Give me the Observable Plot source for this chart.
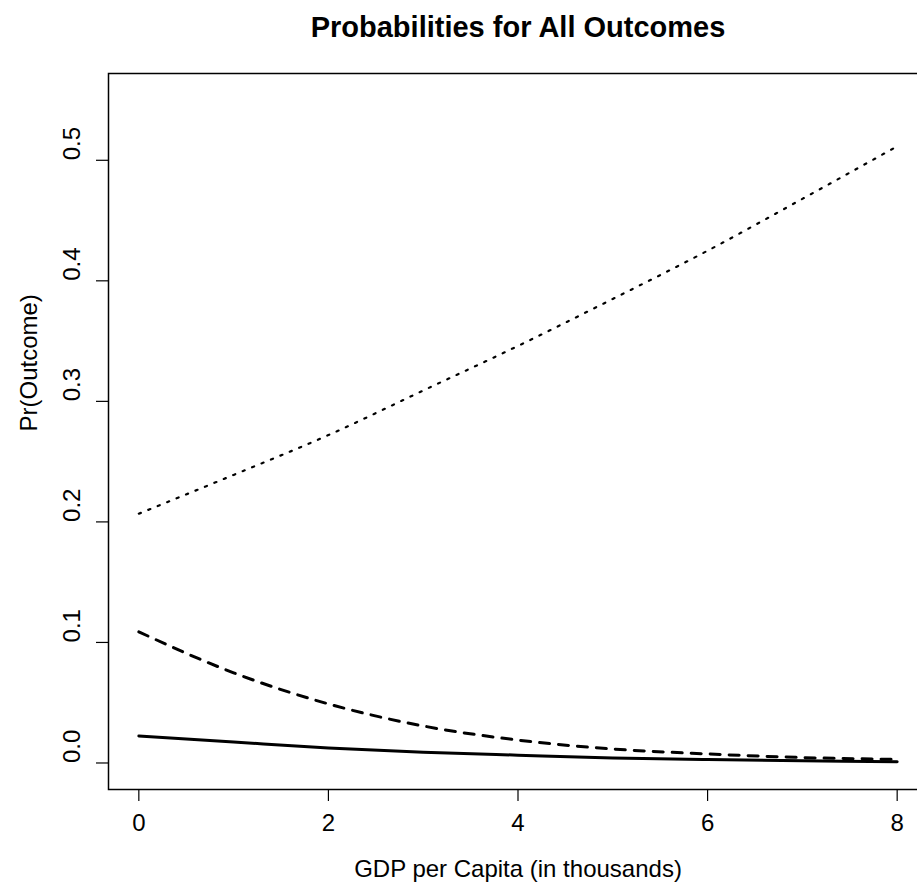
<!DOCTYPE html>
<html><head><meta charset="utf-8">
<script src="https://cdn.jsdelivr.net/npm/d3@7"></script>
<script src="https://cdn.jsdelivr.net/npm/@observablehq/plot@0.6"></script>
<style>html,body{margin:0;padding:0;background:#fff;overflow:hidden;}</style>
</head><body><div id="chart"></div>
<script>
// GDP per capita (thousands)
const gdp = [0, 1, 2, 3, 4, 5, 6, 7, 8];
// Predicted probabilities
const outcomeSolid  = [0.0224, 0.0174, 0.0125, 0.0090, 0.0065, 0.0042, 0.0028, 0.0018, 0.0011];
const outcomeDashed = [0.1088, 0.0748, 0.0490, 0.0307, 0.0190, 0.0116, 0.0075, 0.0045, 0.0030];
const outcomeDotted = [0.2068, 0.2390, 0.2720, 0.3090, 0.3460, 0.3850, 0.4250, 0.4680, 0.5116];
const xTicks = [0, 2, 4, 6, 8];
const yTicks = [0, 0.1, 0.2, 0.3, 0.4, 0.5];
const titleText = "Probabilities for All Outcomes";
const xLabel = "GDP per Capita (in thousands)";
const yLabel = "Pr(Outcome)";

const rows = gdp.map((g, i) => ({gdp: g, solid: outcomeSolid[i], dashed: outcomeDashed[i], dotted: outcomeDotted[i]}));
const font = "'Liberation Sans', Arial, Helvetica, sans-serif";

const chart = Plot.plot({
  width: 917,
  height: 886,
  marginLeft: 108,
  marginTop: 73,
  marginBottom: 97,
  marginRight: -10,
  style: {fontFamily: font, background: "#fff", color: "#000"},
  x: {domain: [-0.32, 8.32]},
  y: {domain: [-0.022, 0.572]},
  marks: [
    Plot.frame({stroke: "#000", strokeWidth: 1.5}),
    Plot.axisX({ticks: xTicks, tickSize: 12, tickFormat: () => "", label: null, strokeWidth: 1.2}),
    Plot.axisY({ticks: yTicks, tickSize: 12, tickFormat: () => "", label: null, strokeWidth: 1.2}),
    Plot.line(rows, {x: "gdp", y: "solid", stroke: "#000", strokeWidth: 3, curve: "monotone-x"}),
    Plot.line(rows, {x: "gdp", y: "dashed", stroke: "#000", strokeWidth: 3, strokeDasharray: "10,9", curve: "monotone-x"}),
    Plot.line(rows, {x: "gdp", y: "dotted", stroke: "#000", strokeWidth: 2.2, strokeDasharray: "2.2,8", curve: "monotone-x"}),
    Plot.text(xTicks, {x: d => d, frameAnchor: "bottom", dy: 34, text: d => String(d), fontSize: 24, lineAnchor: "middle", fill: "#000"}),
    Plot.text(yTicks, {y: d => d, frameAnchor: "left", dx: -36, rotate: -90, text: d => d.toFixed(1), fontSize: 24, lineAnchor: "middle", fill: "#000"}),
    Plot.text([titleText], {frameAnchor: "top", dy: -46, text: d => d, fontSize: 29, fontWeight: "bold", lineAnchor: "middle", fill: "#000"}),
    Plot.text([xLabel], {frameAnchor: "bottom", dy: 80, text: d => d, fontSize: 24, lineAnchor: "middle", fill: "#000"}),
    Plot.text([yLabel], {frameAnchor: "left", dx: -79, rotate: -90, text: d => d, fontSize: 24, lineAnchor: "middle", fill: "#000"})
  ]
});
document.getElementById("chart").appendChild(chart);
</script>
</body></html>
